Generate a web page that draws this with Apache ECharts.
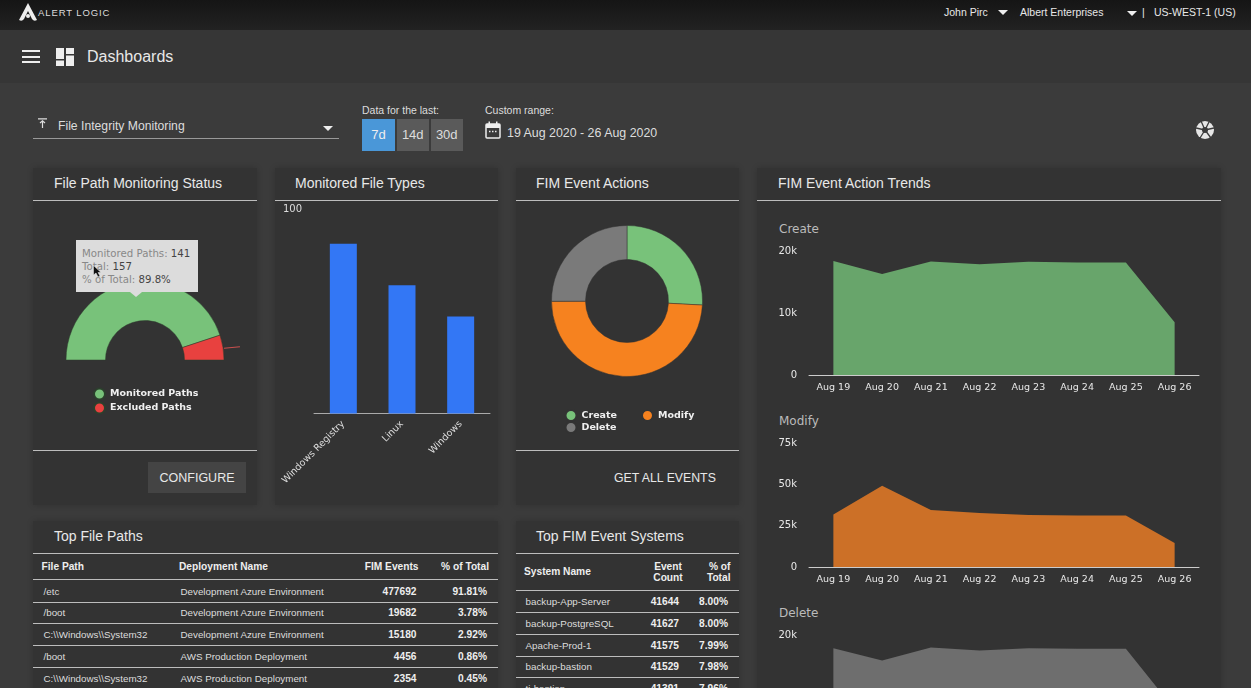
<!DOCTYPE html>
<html>
<head>
<meta charset="utf-8">
<title>Dashboards</title>
<script src="https://cdn.jsdelivr.net/npm/echarts@6/dist/echarts.min.js"></script>
<style>
html, body { margin: 0; padding: 0; width: 1251px; height: 688px; overflow: hidden; background: #3b3b3b; font-family: "Liberation Sans", Arial, sans-serif; color: #e8e8e8; }
.box { position: absolute; }
.t { position: absolute; white-space: nowrap; transform: translateY(-50%); }
.panel { position: absolute; background: #333; box-shadow: 0 0 6px rgba(0,0,0,.18); }
.rule { position: absolute; height: 1px; background: #bdbdbd; }
.tri { position: absolute; width: 0; height: 0; border-left: 5px solid transparent; border-right: 5px solid transparent; border-top: 5px solid #eee; }
.btn { position: absolute; top: 119px; height: 32px; line-height: 32px; width: 32.5px; text-align: center; font-size: 13px; background: #5a5a5a; color: #ddd; }
.chart { position: absolute; }
</style>
</head>
<body>
<!-- top bar -->
<div class="box" style="left:0;top:0;width:1251px;height:30px;background:linear-gradient(#151515,#222)"></div>
<div class="box" style="left:0;top:30px;width:1251px;height:53px;background:#363636"></div>
<svg class="box" style="left:19px;top:3px" width="18" height="19" viewBox="0 0 18 19"><path d="M9 0 L18 17 Q15 19 13 16 L9 8 L5 16 Q3 19 0 17 Z" fill="#eee"/><circle cx="9" cy="13" r="2" fill="#eee"/></svg>
<div class="t" style="left:38px;top:12px;font-size:9.5px;letter-spacing:.9px;color:#ddd">ALERT LOGIC</div>
<div class="t" style="left:944px;top:12px;font-size:10.5px">John Pirc</div>
<div class="tri" style="left:998px;top:10px"></div>
<div class="t" style="left:1020px;top:12px;font-size:10.5px">Albert Enterprises</div>
<div class="tri" style="left:1127px;top:11px"></div>
<div class="t" style="left:1142px;top:12px;font-size:10.5px">|</div>
<div class="t" style="left:1154px;top:12px;font-size:10.5px">US-WEST-1 (US)</div>

<!-- nav row -->
<div class="box" style="left:22px;top:50px;width:18px;height:2px;background:#eee"></div>
<div class="box" style="left:22px;top:56px;width:18px;height:2px;background:#eee"></div>
<div class="box" style="left:22px;top:61px;width:18px;height:2px;background:#eee"></div>
<svg class="box" style="left:56px;top:48px" width="18" height="18"><rect width="8" height="11" fill="#eee"/><rect x="10" width="8" height="6" fill="#eee"/><rect y="12.500" width="8" height="5.500" fill="#eee"/><rect x="10" y="7.500" width="8" height="10.500" fill="#eee"/></svg>
<div class="t" style="left:87px;top:56.500px;font-size:16px">Dashboards</div>

<!-- filter row -->
<svg class="box" style="left:38px;top:118px" width="10" height="11"><path d="M0 .8H9M4.500 3V10M2 5L4.500 2.800L7 5" stroke="#ddd" stroke-width="1.200" fill="none"/></svg>
<div class="t" style="left:58px;top:126px;font-size:12.200px;color:#ddd">File Integrity Monitoring</div>
<div class="rule" style="left:33px;top:138px;width:306px;background:#999"></div>
<div class="tri" style="left:323px;top:126px"></div>
<div class="t" style="left:362px;top:109.500px;font-size:10.500px;color:#ddd">Data for the last:</div>
<div class="btn" style="left:362px;width:33px;background:#4a97d8;color:#eee">7d</div>
<div class="btn" style="left:396.500px">14d</div>
<div class="btn" style="left:430.500px">30d</div>
<div class="t" style="left:485px;top:109.500px;font-size:10.500px;color:#ddd">Custom range:</div>
<svg class="box" style="left:485px;top:121px" width="16" height="18"><rect x="1" y="3" width="14" height="14" rx="1" fill="none" stroke="#eee" stroke-width="1.500"/><rect x="1" y="3" width="14" height="4" fill="#eee"/><rect x="3.500" y="0.500" width="1.500" height="3.500" fill="#eee"/><rect x="11" y="0.500" width="1.500" height="3.500" fill="#eee"/><path d="M4 10.500H12" stroke="#eee" stroke-width="1.500" stroke-dasharray="1.500 1.500"/></svg>
<div class="t" style="left:507px;top:132.500px;font-size:12.400px;color:#ddd">19 Aug 2020 - 26 Aug 2020</div>
<svg class="box" style="left:1196px;top:121px" width="18" height="18" viewBox="0 0 18 18"><circle cx="9" cy="9" r="9" fill="#e6e6e6"/><path d="M9 9L5 0M9 9L18 7M9 9L15 17M9 9L4 17M9 9L0 7M9 9L13 1" stroke="#3b3b3b" stroke-width="1.300"/><circle cx="9" cy="9" r="3" fill="#3b3b3b"/></svg>

<!-- panels -->
<div class="panel" style="left:33px;top:168px;width:224px;height:337px"></div>
<div class="panel" style="left:275px;top:168px;width:223px;height:337px"></div>
<div class="panel" style="left:516px;top:168px;width:223px;height:337px"></div>
<div class="panel" style="left:757px;top:168px;width:464px;height:530px"></div>
<div class="panel" style="left:33px;top:521px;width:465px;height:177px"></div>
<div class="panel" style="left:516px;top:521px;width:223px;height:177px"></div>

<div class="t" style="left:54px;top:183px;font-size:14px">File Path Monitoring Status</div>
<div class="t" style="left:295px;top:183px;font-size:14px">Monitored File Types</div>
<div class="t" style="left:536px;top:183px;font-size:14px">FIM Event Actions</div>
<div class="t" style="left:778px;top:183px;font-size:14px">FIM Event Action Trends</div>
<div class="t" style="left:54px;top:536px;font-size:14px">Top File Paths</div>
<div class="t" style="left:536px;top:536px;font-size:14px">Top FIM Event Systems</div>

<div class="rule" style="left:33px;top:200px;width:224px"></div>
<div class="rule" style="left:275px;top:200px;width:223px"></div>
<div class="rule" style="left:516px;top:200px;width:223px"></div>
<div class="rule" style="left:757px;top:200px;width:464px"></div>
<div class="rule" style="left:33px;top:450px;width:224px"></div>
<div class="rule" style="left:516px;top:450px;width:223px"></div>
<div class="rule" style="left:33px;top:553px;width:465px"></div>
<div class="rule" style="left:516px;top:553px;width:223px"></div>

<div class="box" style="left:148px;top:462px;width:98px;height:31px;line-height:32px;text-align:center;background:#444;font-size:12.500px">CONFIGURE</div>
<div class="t" style="left:614px;top:477.500px;font-size:12.300px">GET ALL EVENTS</div>

<!-- charts -->
<div class="chart" id="gauge" style="left:33px;top:201px;width:224px;height:249px"></div>
<div class="chart" id="types" style="left:275px;top:201px;width:223px;height:300px"></div>
<div class="chart" id="actions" style="left:516px;top:201px;width:223px;height:249px"></div>
<div class="chart" id="createArea" style="left:757px;top:240px;width:464px;height:160px"></div>
<div class="chart" id="modifyArea" style="left:757px;top:432px;width:464px;height:160px"></div>
<div class="chart" id="deleteArea" style="left:757px;top:624px;width:464px;height:160px"></div>
<div class="t" style="left:779px;top:228.500px;font-family:'DejaVu Sans';font-size:12px;color:#bbb">Create</div>
<div class="t" style="left:779px;top:420.500px;font-family:'DejaVu Sans';font-size:12px;color:#bbb">Modify</div>
<div class="t" style="left:779px;top:612.500px;font-family:'DejaVu Sans';font-size:12px;color:#bbb">Delete</div>

<!-- gauge hover box -->
<div class="box" style="left:224px;top:347px;width:16px;height:1px;background:#c9504e;transform:rotate(-6deg)"></div>
<div class="box" style="left:76px;top:240px;width:122px;height:52px;background:#dcdcdc"></div>
<div class="box" style="left:130px;top:292px;width:0;height:0;border-left:6px solid transparent;border-right:6px solid transparent;border-top:5px solid #dcdcdc"></div>
<div class="t" style="left:82px;top:252.500px;font-family:'DejaVu Sans';font-size:10.200px;color:#888">Monitored Paths: <span style="color:#444">141</span></div>
<div class="t" style="left:82px;top:265.500px;font-family:'DejaVu Sans';font-size:10.200px;color:#888">Total: <span style="color:#444">157</span></div>
<div class="t" style="left:82px;top:278.500px;font-family:'DejaVu Sans';font-size:10.200px;color:#888">% of Total: <span style="color:#444">89.8%</span></div>
<svg class="box" style="left:93px;top:265px" width="9" height="13"><path d="M.5 .5V10L3 8L5 12L7 11L5 7.500H8Z" fill="#111" stroke="#eee" stroke-width=".5"/></svg>

<div id="tables"></div>

<script>
// 饼图 / 柱状图数据
var pathNames = ['Monitored Paths', 'Excluded Paths'];
var pathValues = [141, 16];
var typeNames = ['Windows Registry', 'Linux', 'Windows'];
var typeValues = [83, 62.7, 47.4];
var actionNames = ['Create', 'Modify', 'Delete'];
var actionValues = [134900, 256000, 130700];

// 趋势图数据
var days = ['Aug 19', 'Aug 20', 'Aug 21', 'Aug 22', 'Aug 23', 'Aug 24', 'Aug 25', 'Aug 26'];
var createValues = [18400, 16300, 18300, 17850, 18250, 18150, 18150, 8500];
var modifyValues = [31700, 49200, 34500, 32700, 31500, 31200, 31200, 14500];
var deleteValues = [17850, 15900, 18000, 17500, 17850, 17800, 17800, 8000];

// 表格数据
var pathHeads = ['File Path', 'Deployment Name', 'FIM Events', '% of Total'];
var pathRows = [
  ['/etc', 'Development Azure Environment', '477692', '91.81%'],
  ['/boot', 'Development Azure Environment', '19682', '3.78%'],
  ['C:\\\\Windows\\\\System32', 'Development Azure Environment', '15180', '2.92%'],
  ['/boot', 'AWS Production Deployment', '4456', '0.86%'],
  ['C:\\\\Windows\\\\System32', 'AWS Production Deployment', '2354', '0.45%']
];
var systemRows = [
  ['backup-App-Server', '41644', '8.00%'],
  ['backup-PostgreSQL', '41627', '8.00%'],
  ['Apache-Prod-1', '41575', '7.99%'],
  ['backup-bastion', '41529', '7.98%'],
  ['ti-bastion', '41391', '7.96%']
];

var green = '#78c27a', red = '#e8413f', orange = '#f6821f', gray = '#7a7a7a';
var legendFont = { color: '#f0f0f0', fontFamily: 'DejaVu Sans', fontWeight: 'bold', fontSize: 9.500, lineHeight: 11 };

function text(parent, str, left, top, style) {
  var el = document.createElement('div');
  el.className = 't';
  el.textContent = str;
  el.style.cssText = 'left:' + left + 'px;top:' + top + 'px;' + (style || '');
  parent.appendChild(el);
}
function textRight(parent, str, right, top, style) {
  text(parent, str, right, top, 'transform:translate(-100%,-50%);' + (style || ''));
}
function hr(parent, left, top, width) {
  var el = document.createElement('div');
  el.className = 'rule';
  el.style.cssText = 'left:' + left + 'px;top:' + top + 'px;width:' + width + 'px';
  parent.appendChild(el);
}

// 左侧表格
var tables = document.getElementById('tables');
var small = 'font-size:9.800px;color:#ddd;';
var bold = 'font-size:10.200px;font-weight:bold;color:#eee;';
text(tables, pathHeads[0], 41.500, 566, bold);
text(tables, pathHeads[1], 179, 566, bold);
textRight(tables, pathHeads[2], 418.500, 566, bold);
textRight(tables, pathHeads[3], 489, 566, bold);
hr(tables, 33, 579, 465);
pathRows.forEach(function (r, i) {
  var y = 590.500 + i * 21.900;
  text(tables, r[0], 43.500, y, small);
  text(tables, r[1], 180.500, y, small);
  textRight(tables, r[2], 416.500, y, bold);
  textRight(tables, r[3], 487, y, bold);
  if (i < pathRows.length - 1) hr(tables, 33, Math.round(601.500 + i * 21.900), 465);
});

// 右侧表格
text(tables, 'System Name', 524, 571, bold);
text(tables, 'Event', 668, 566, bold + 'transform:translate(-50%,-50%);');
text(tables, 'Count', 668, 576.500, bold + 'transform:translate(-50%,-50%);');
textRight(tables, '% of', 730.500, 566, bold);
textRight(tables, 'Total', 730.500, 576.500, bold);
hr(tables, 516, 590, 223);
systemRows.forEach(function (r, i) {
  var y = 601 + i * 21.800;
  text(tables, r[0], 525.500, y, small);
  textRight(tables, r[1], 679, y, bold);
  textRight(tables, r[2], 728, y, bold);
  if (i < systemRows.length - 1) hr(tables, 516, Math.round(612 + i * 21.800), 223);
});

// 半圆图
var gaugeChart = echarts.init(document.getElementById('gauge'));
gaugeChart.setOption({
  animation: false,
  color: [green, red],
  legend: {
    orient: 'vertical', left: 60, top: 186.500, padding: 0, itemGap: 1,
    itemWidth: 11, itemHeight: 11, icon: 'circle', selectedMode: false,
    textStyle: legendFont, data: pathNames
  },
  series: [{
    type: 'pie',
    center: [112, 159],
    radius: [39.500, 79],
    startAngle: 180,
    endAngle: 0,
    label: { show: false },
    labelLine: { show: false },
    itemStyle: { borderColor: '#2c3f2d', borderWidth: 0.500 },
    data: pathNames.map(function (n, i) { return { name: n, value: pathValues[i] }; })
  }]
});

// 柱状图
var typesChart = echarts.init(document.getElementById('types'));
typesChart.setOption({
  animation: false,
  grid: { left: 39, right: 8, top: 8, height: 204.500, outerBoundsMode: 'none' },
  xAxis: {
    type: 'category', data: typeNames,
    axisLine: { lineStyle: { color: '#aaa', width: 1 } },
    axisTick: { show: false },
    axisLabel: { rotate: 45, color: '#ddd', fontFamily: 'DejaVu Sans', fontSize: 9.500, margin: 9, interval: 0 }
  },
  yAxis: {
    type: 'value', min: 0, max: 100, interval: 100,
    splitLine: { show: false }, axisLine: { show: false }, axisTick: { show: false },
    axisLabel: {
      color: '#ddd', fontFamily: 'DejaVu Sans', fontSize: 10, align: 'left', margin: 31, padding: [2, 0, 0, 0],
      formatter: function (v) { return v === 0 ? '' : v; }
    }
  },
  series: [{ type: 'bar', data: typeValues, barWidth: 27, itemStyle: { color: '#3377f5' } }]
});

// 环形图
var actionsChart = echarts.init(document.getElementById('actions'));
actionsChart.setOption({
  animation: false,
  color: [green, orange, gray],
  legend: [
    { left: 48.500, top: 208, padding: 0, itemGap: 24, itemWidth: 11, itemHeight: 11, icon: 'circle', selectedMode: false, textStyle: legendFont, data: actionNames.slice(0, 2) },
    { left: 48.500, top: 220, padding: 0, itemWidth: 11, itemHeight: 11, icon: 'circle', selectedMode: false, textStyle: legendFont, data: actionNames.slice(2) }
  ],
  series: [{
    type: 'pie',
    center: [111, 100],
    radius: [41.500, 75.500],
    startAngle: 90,
    label: { show: false },
    labelLine: { show: false },
    itemStyle: { borderColor: '#333', borderWidth: 0.500 },
    data: actionNames.map(function (n, i) { return { name: n, value: actionValues[i] }; })
  }]
});

// 面积图
function drawArea(id, values, max, interval, color) {
  var chart = echarts.init(document.getElementById(id));
  chart.setOption({
    animation: false,
    grid: { left: 52, right: 22, top: 11, height: 124, outerBoundsMode: 'none' },
    xAxis: {
      type: 'category', data: days, boundaryGap: true,
      axisLine: { lineStyle: { color: '#ccc', width: 1 } },
      axisTick: { show: false },
      axisLabel: { color: '#e8e8e8', fontFamily: 'DejaVu Sans', fontSize: 9.500, margin: 8, interval: 0 }
    },
    yAxis: {
      type: 'value', min: 0, max: max, interval: interval,
      splitLine: { show: false }, axisLine: { show: false }, axisTick: { show: false },
      axisLabel: {
        color: '#e8e8e8', fontFamily: 'DejaVu Sans', fontSize: 10, margin: 12, padding: [3, 0, 0, 0],
        formatter: function (v) { return v === 0 ? '0' : (v / 1000) + 'k'; }
      }
    },
    series: [{
      type: 'line', data: values, symbol: 'none',
      lineStyle: { width: 0 },
      areaStyle: { color: color, opacity: 1 }
    }]
  });
}
drawArea('createArea', createValues, 20000, 10000, '#68a56b');
drawArea('modifyArea', modifyValues, 75000, 25000, '#cc7027');
drawArea('deleteArea', deleteValues, 20000, 10000, '#6e6e6e');
</script>
</body>
</html>
